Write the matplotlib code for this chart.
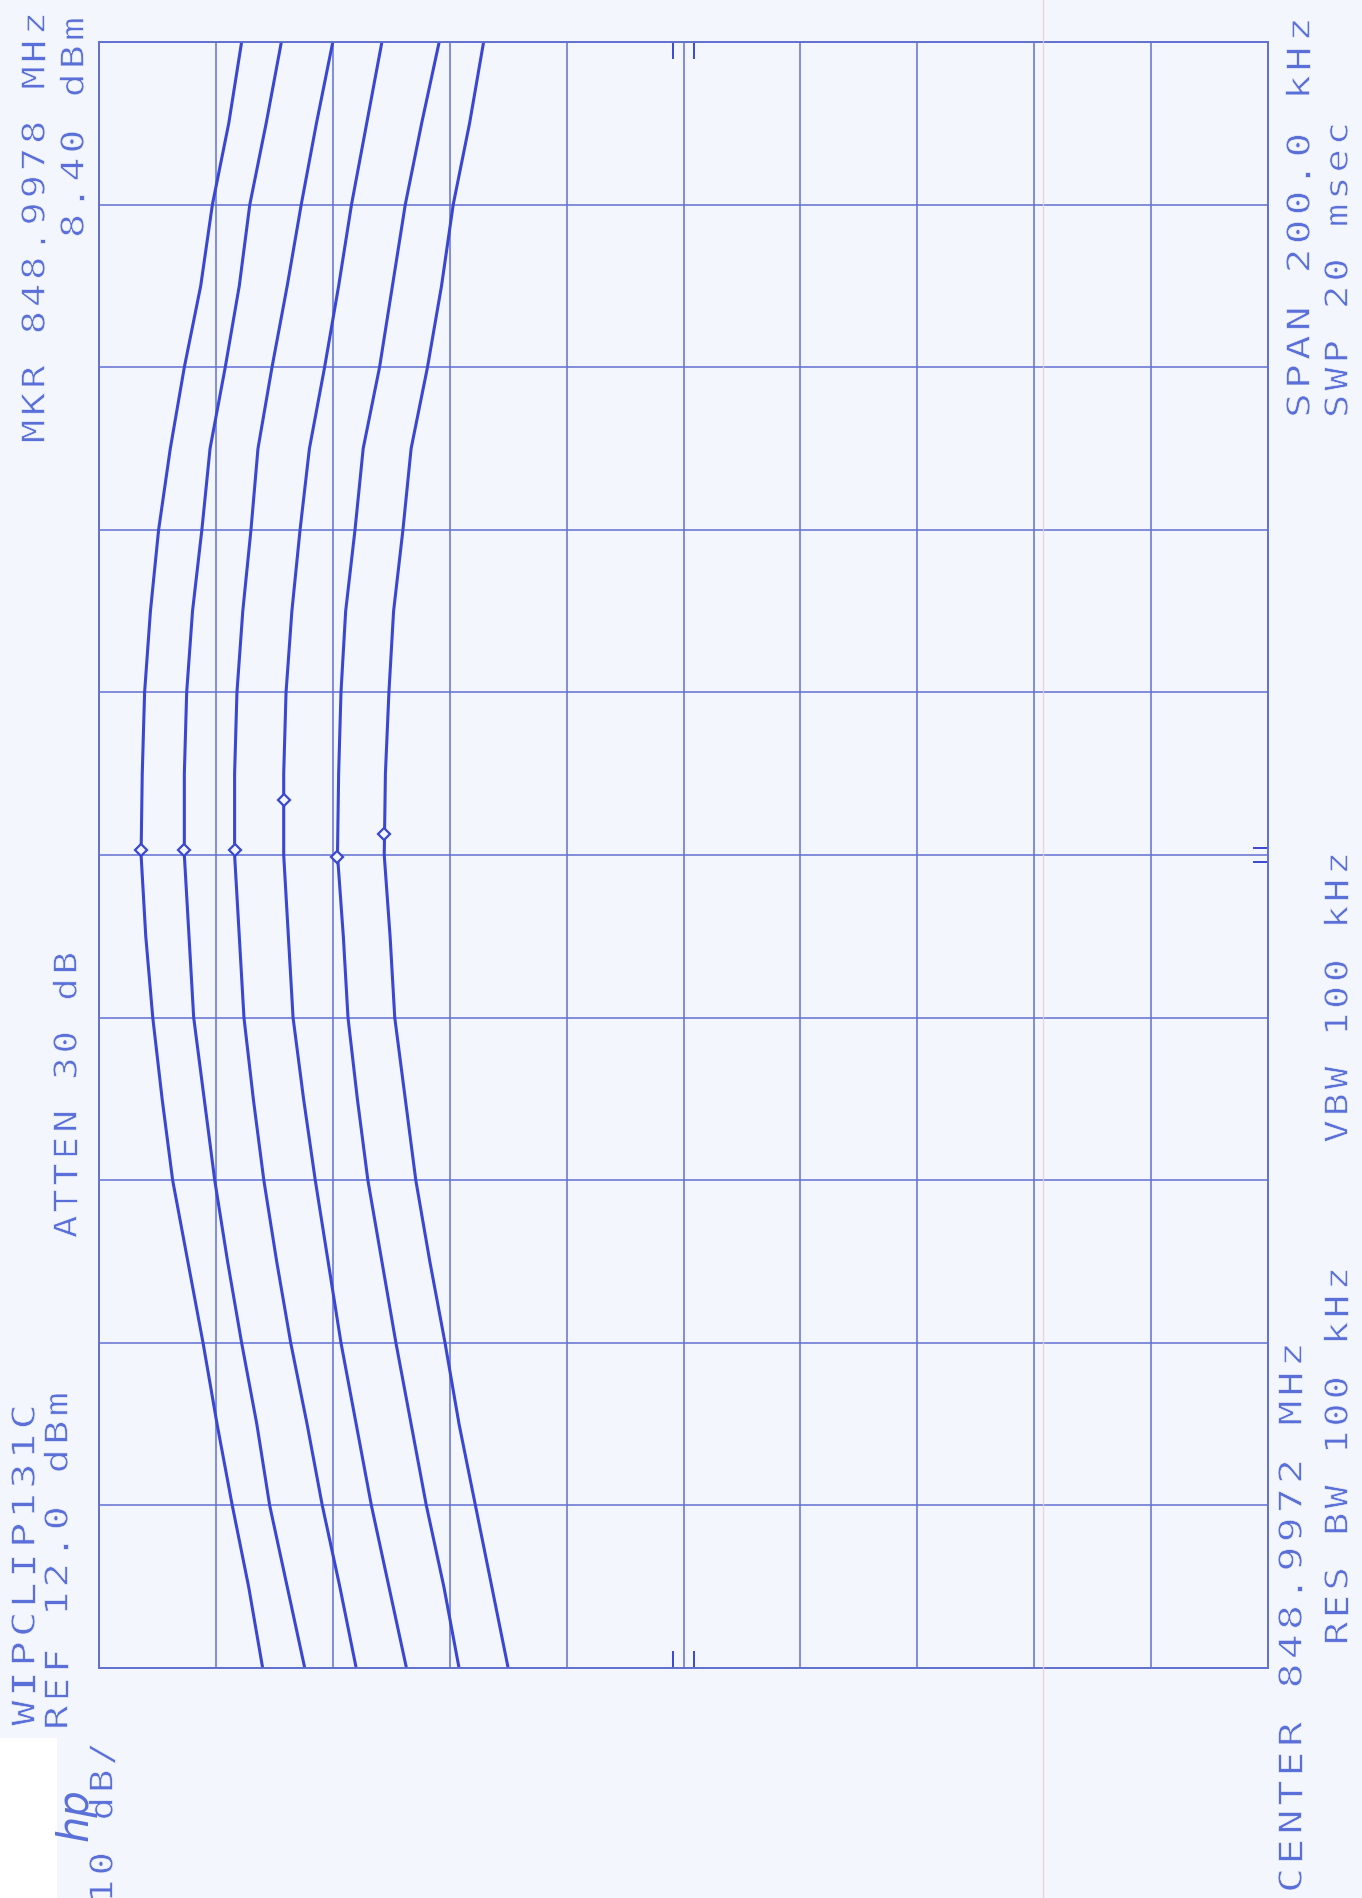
import matplotlib
matplotlib.use("Agg")
import matplotlib.pyplot as plt
import matplotlib.transforms as mtransforms
from matplotlib.textpath import TextPath
from matplotlib.patches import PathPatch, Rectangle
from matplotlib.font_manager import FontProperties
import numpy as np

# ---------------- data ----------------
ref_level_dbm = 12.0
db_per_div = 10.0
n_div = 10
span_khz = 200.0
# frequency offset from CENTER 848.9972 MHz
freq_khz = [-100, -90, -80, -70, -60, -50, -40, -30, -20, -10, 0,
            10, 20, 30, 40, 50, 60, 70, 80, 90, 100]

trace_1 = [-2.0, -0.8, 0.6, 1.9, 3.1, 4.4, 5.7, 6.6, 7.4, 8.0, 8.4,
           8.3, 8.1, 7.6, 6.9, 5.9, 4.7, 3.3, 2.3, 0.9, -0.2]
trace_2 = [-5.6, -4.1, -2.6, -1.5, -0.2, 1.0, 2.1, 3.0, 3.9, 4.3, 4.7,
           4.7, 4.5, 4.0, 3.2, 2.5, 1.2, 0.0, -0.9, -2.3, -3.6]
trace_3 = [-10.0, -8.6, -7.1, -5.8, -4.4, -3.2, -2.1, -1.2, -0.4, 0.0, 0.4,
           0.4, 0.2, -0.3, -1.0, -1.6, -2.8, -4.1, -5.3, -6.6, -8.0]
trace_4 = [-14.3, -12.8, -11.3, -10.0, -8.7, -7.6, -6.5, -5.5, -4.6, -4.2, -3.8,
           -3.8, -4.0, -4.5, -5.2, -6.0, -7.3, -8.5, -9.6, -10.9, -12.2]
trace_5 = [-18.8, -17.5, -16.0, -14.7, -13.4, -12.2, -11.0, -10.1, -9.3, -8.9, -8.4,
           -8.5, -8.7, -9.1, -9.9, -10.6, -12.0, -13.1, -14.2, -15.6, -17.1]
trace_6 = [-23.0, -21.6, -20.2, -18.8, -17.6, -16.3, -15.1, -14.2, -13.3, -12.9, -12.4,
           -12.5, -12.8, -13.2, -14.0, -14.7, -16.1, -17.3, -18.3, -19.7, -20.9]
traces = [trace_1, trace_2, trace_3, trace_4, trace_5, trace_6]

marker_freq_khz = [0.6, 0.6, 0.6, 6.8, -0.2, 2.6]
marker_amp_dbm = [8.4, 4.7, 0.4, -3.8, -8.4, -12.4]

# annotation strings (rotated plotter text): text, column x, top y, bottom y (px)
texts = [
    ("MKR 848.9978 MHz", 33, 10, 445),
    ("8.40 dBm", 72, 15, 240),
    ("ATTEN 30 dB", 65, 950, 1240),
    ("WIPCLIP131C", 23, 1402, 1728),
    ("REF 12.0 dBm", 56, 1390, 1732),
    ("10 dB/", 101, 1740, 1905),
    ("SPAN 200.0 kHz", 1298, 15, 420),
    ("SWP 20 msec", 1336, 120, 420),
    ("VBW 100 kHz", 1336, 850, 1145),
    ("CENTER 848.9972 MHz", 1290, 1340, 1895),
    ("RES BW 100 kHz", 1336, 1265, 1647),
]

# ---------------- style ----------------
W, H = 1362, 1898
BG = "#f3f6fc"
TRACE_C = "#3a47d0"
GRID_C = "#6270d0"
TEXT_C = "#5a70d8"

fig = plt.figure(figsize=(W / 100, H / 100), dpi=100)
fig.patch.set_facecolor(BG)

# pasted white paper patch at bottom-left of the scan
fig.add_artist(Rectangle((0, 0), 57 / W, (H - 1738) / H, transform=fig.transFigure,
                         facecolor="white", edgecolor="none", zorder=0))

gl, gr, gt, gb = 99, 1268, 42, 1668
ax = fig.add_axes([gl / W, 1 - gb / H, (gr - gl) / W, (gb - gt) / H])
ax.set_facecolor(BG)

amp_lo = ref_level_dbm - db_per_div * n_div
ax.set_xlim(ref_level_dbm, amp_lo)
ax.set_ylim(-span_khz / 2, span_khz / 2)
ax.set_xticks(np.arange(amp_lo, ref_level_dbm + 0.1, db_per_div))
ax.set_yticks(np.arange(-span_khz / 2, span_khz / 2 + 0.1, span_khz / n_div))
ax.grid(True, color=GRID_C, lw=1.1)
ax.tick_params(length=0, labelbottom=False, labelleft=False)
for s in ax.spines.values():
    s.set_color(GRID_C)
    s.set_linewidth(1.4)

# faint paper artifact line
fig.add_artist(plt.Line2D([1043 / W, 1043 / W], [0, 1], color="#f2c9d2", lw=1.0, alpha=0.8))

for tr, mf, ma in zip(traces, marker_freq_khz, marker_amp_dbm):
    ax.plot(tr, freq_khz, color=TRACE_C, lw=2.2, solid_joinstyle="round")
    ax.plot([ma], [mf], marker="D", ms=6, mfc=BG, mec=TRACE_C, mew=1.6, zorder=5)

# graticule centre tick pairs
amp_c = ref_level_dbm - db_per_div * n_div / 2
for dx in (-0.9, 0.9):
    ax.plot([amp_c + dx] * 2, [span_khz / 2, span_khz / 2 - 2.0], color=TRACE_C, lw=1.4)
    ax.plot([amp_c + dx] * 2, [-span_khz / 2, -span_khz / 2 + 2.0], color=TRACE_C, lw=1.4)
for dy in (-0.9, 0.9):
    ax.plot([amp_lo, amp_lo + 1.2], [dy, dy], color=TRACE_C, lw=1.4)

# ---------------- text (plotter style, rotated 90 deg) ----------------
CAP = 23.0    # px, glyph height
GLYPH = 0.85  # glyph width as a fraction of the character cell
FP = FontProperties(family="DejaVu Sans Mono")
MONO_ADV = 0.602
MONO_CAP = 0.729


def plot_text(s, xc, ytop, ybot, bg=BG):
    adv = (ybot - ytop) / len(s)
    for i, ch in enumerate(s):
        if ch == " ":
            continue
        path = TextPath((0, 0), ch, size=1, prop=FP)
        yc = ybot - (i + 0.5) * adv
        tr = (mtransforms.Affine2D()
              .translate(-MONO_ADV / 2, 0)
              .scale(GLYPH * adv / MONO_ADV, CAP / MONO_CAP)
              .rotate_deg(90)
              .translate(xc + CAP / 2, H - yc)
              .scale(1 / 100.0)) + fig.dpi_scale_trans
        fig.add_artist(PathPatch(path, transform=tr, facecolor=TEXT_C,
                                 edgecolor=bg, lw=0.5, zorder=3))


for s, xc, yt, yb in texts:
    plot_text(s, xc, yt, yb)

# hp logo
fig.text(76 / W, 1 - 1815 / H, "hp", rotation=90, ha="center", va="center",
         fontsize=30, style="italic", color=TEXT_C, family="DejaVu Sans")

fig.savefig("out.png", dpi=100, facecolor=BG)
